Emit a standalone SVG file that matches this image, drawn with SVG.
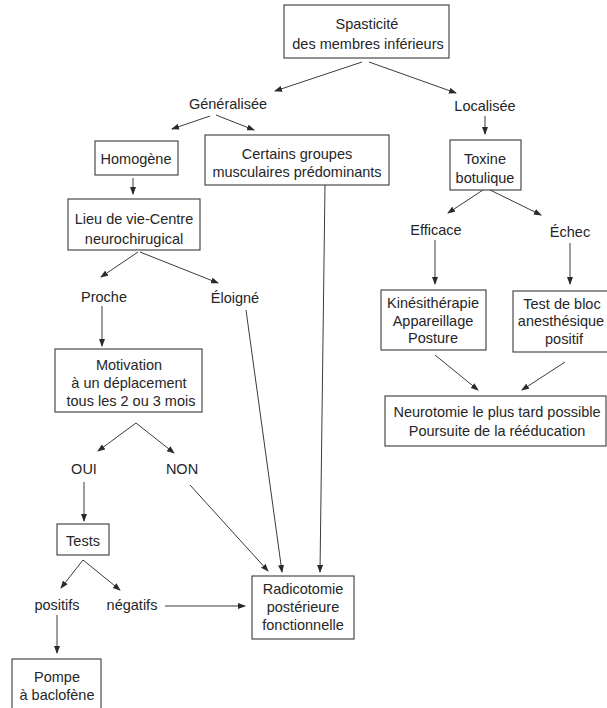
<svg xmlns="http://www.w3.org/2000/svg" width="607" height="708" viewBox="0 0 607 708">
<defs>
<marker id="ah" markerWidth="8" markerHeight="6" refX="7" refY="3" orient="auto" markerUnits="userSpaceOnUse">
<path d="M0,0 L8,3 L0,6 Z" fill="#2a2a2a"/>
</marker>
<style>
text{font-family:"Liberation Sans",Arial,sans-serif;font-size:14.5px;fill:#262626;text-anchor:middle}
rect{fill:#fff;stroke:#3a3a3a;stroke-width:1.1}
.c line{stroke:#3a3a3a;stroke-width:1;marker-end:url(#ah)}
</style>
</defs>
<rect x="0" y="0" width="607" height="708" style="stroke:none"/>
<g class="c" id="connectors">
<line x1="362" y1="62" x2="275" y2="91"/>
<line x1="369" y1="62" x2="456" y2="93"/>
<line x1="210" y1="116" x2="172" y2="129"/>
<line x1="216" y1="115" x2="254" y2="130"/>
<line x1="133" y1="178" x2="133" y2="194"/>
<line x1="138" y1="252" x2="101" y2="277"/>
<line x1="140" y1="252" x2="218" y2="283"/>
<line x1="102" y1="306" x2="102" y2="346"/>
<line x1="136" y1="423" x2="98" y2="451"/>
<line x1="136" y1="423" x2="174" y2="453"/>
<line x1="84" y1="482" x2="84" y2="521"/>
<line x1="83" y1="560" x2="61" y2="588"/>
<line x1="83" y1="560" x2="120" y2="590"/>
<line x1="57" y1="615" x2="57" y2="653"/>
<line x1="165" y1="606" x2="245" y2="606"/>
<line x1="190" y1="485" x2="268" y2="571"/>
<line x1="246" y1="310" x2="282" y2="572"/>
<line x1="325" y1="185" x2="320" y2="572"/>
<line x1="485" y1="116" x2="485" y2="134"/>
<line x1="486" y1="188" x2="448" y2="213"/>
<line x1="486" y1="188" x2="541" y2="215"/>
<line x1="435" y1="240" x2="435" y2="284"/>
<line x1="570" y1="243" x2="570" y2="284"/>
<line x1="435" y1="355" x2="478" y2="390"/>
<line x1="565" y1="362" x2="522" y2="390"/>
</g>
<g id="spasticite"><rect x="284" y="5" width="165" height="53"/><text x="367" y="29">Spasticité</text><text x="368" y="49">des membres inférieurs</text></g>
<g id="generalisee"><text x="228" y="109">Généralisée</text></g>
<g id="localisee"><text x="485" y="111">Localisée</text></g>
<g id="homogene"><rect x="95" y="141" width="83" height="34"/><text x="136" y="164">Homogène</text></g>
<g id="certains"><rect x="205" y="135" width="184" height="50"/><text x="297" y="159">Certains groupes</text><text x="297" y="177">musculaires prédominants</text></g>
<g id="lieu"><rect x="68" y="199" width="132" height="51"/><text x="134" y="224">Lieu de vie-Centre</text><text x="134" y="244">neurochirugical</text></g>
<g id="proche"><text x="104" y="302">Proche</text></g>
<g id="eloigne"><text x="235" y="303">Éloigné</text></g>
<g id="motivation"><rect x="55" y="349" width="147" height="63"/><text x="129" y="370">Motivation</text><text x="129" y="388">à un déplacement</text><text x="131" y="406">tous les 2 ou 3 mois</text></g>
<g id="oui"><text x="84" y="474">OUI</text></g>
<g id="non"><text x="182" y="474">NON</text></g>
<g id="tests"><rect x="57" y="524" width="52" height="31"/><text x="83" y="546">Tests</text></g>
<g id="positifs"><text x="57" y="610">positifs</text></g>
<g id="negatifs"><text x="132" y="610">négatifs</text></g>
<g id="pompe"><rect x="12" y="659" width="89" height="55"/><text x="57" y="682">Pompe</text><text x="57" y="700">à baclofène</text></g>
<g id="radicotomie"><rect x="252" y="576" width="102" height="63"/><text x="303" y="594">Radicotomie</text><text x="303" y="612">postérieure</text><text x="303" y="630">fonctionnelle</text></g>
<g id="toxine"><rect x="450" y="140" width="71" height="50"/><text x="485" y="164">Toxine</text><text x="485" y="183">botulique</text></g>
<g id="efficace"><text x="436" y="235">Efficace</text></g>
<g id="echec"><text x="570" y="237">Échec</text></g>
<g id="kine"><rect x="381" y="290" width="105" height="60"/><text x="433" y="308">Kinésithérapie</text><text x="433" y="326">Appareillage</text><text x="433" y="343">Posture</text></g>
<g id="testbloc"><rect x="513" y="291" width="110" height="61"/><text x="562" y="309">Test de bloc</text><text x="561" y="326">anesthésique</text><text x="564" y="344">positif</text></g>
<g id="neurotomie"><rect x="385" y="396" width="221" height="50"/><text x="497" y="417">Neurotomie le plus tard possible</text><text x="497" y="436">Poursuite de la rééducation</text></g>
</svg>
